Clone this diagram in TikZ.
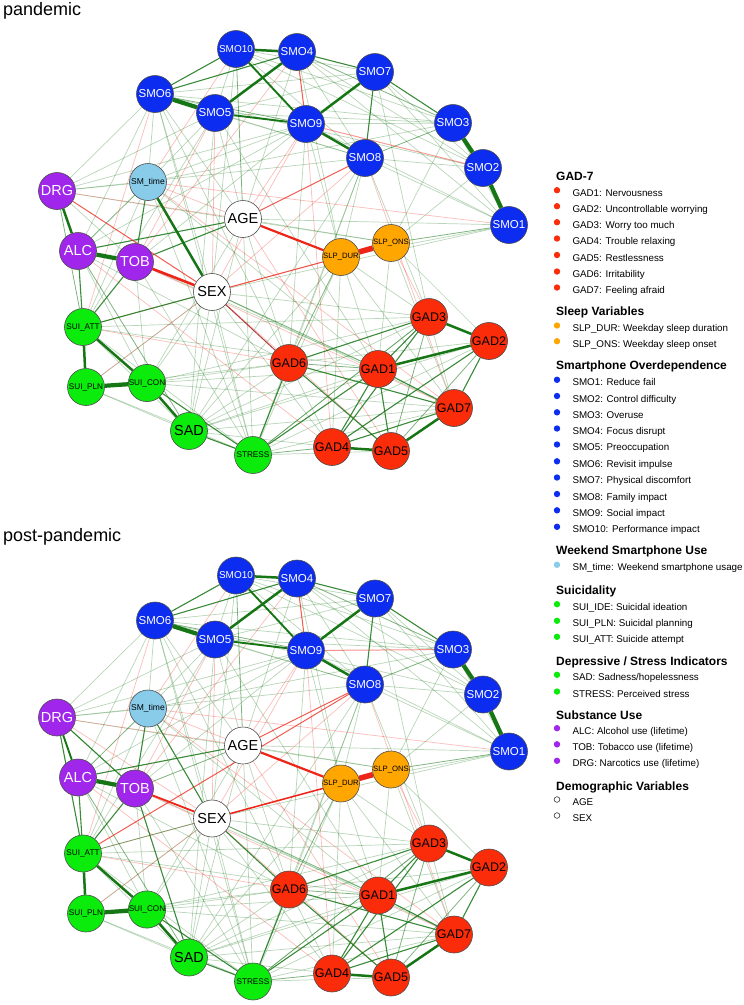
\documentclass[tikz,border=0pt]{standalone}
\usepackage{fontspec}
\setmainfont{Liberation Sans}
\usetikzlibrary{backgrounds}

\definecolor{smoblue}{RGB}{12,44,240}
\definecolor{gadred}{RGB}{250,44,10}
\definecolor{suigreen}{RGB}{12,236,12}
\definecolor{subpurple}{RGB}{160,38,236}
\definecolor{slporange}{RGB}{255,166,0}
\definecolor{smtblue}{RGB}{136,204,234}
\definecolor{posgreen}{RGB}{22,118,22}
\definecolor{negred}{RGB}{238,36,24}

\begin{document}
\begin{tikzpicture}[x=1pt, y=-1pt,
    vtx/.style={circle, draw=black!70, line width=0.6pt, minimum size=37pt, inner sep=0pt},
    smo/.style={vtx, fill=smoblue, text=white, font=\fontsize{11.5}{12}\selectfont},
    gad/.style={vtx, fill=gadred, font=\fontsize{12.5}{13}\selectfont},
    sui/.style={vtx, fill=suigreen, font=\fontsize{8.2}{9}\selectfont},
    dep/.style={vtx, fill=suigreen, font=\fontsize{14.5}{15}\selectfont},
    sub/.style={vtx, fill=subpurple, text=white, font=\fontsize{14.5}{15}\selectfont},
    slp/.style={vtx, fill=slporange, font=\fontsize{7.7}{8}\selectfont},
    smt/.style={vtx, fill=smtblue, font=\fontsize{8.5}{9}\selectfont},
    demo/.style={vtx, fill=white, font=\fontsize{14.5}{15}\selectfont},
    posfaint/.style={draw=posgreen, line width=0.7pt, opacity=0.3},
    poslight/.style={draw=posgreen, line width=0.8pt, opacity=0.55},
    posmid/.style={draw=posgreen, line width=1.1pt, opacity=0.85},
    posfirm/.style={draw=posgreen, line width=1.9pt},
    posstrong/.style={draw=posgreen, line width=2.5pt},
    posheavy/.style={draw=posgreen, line width=4.2pt},
    negfaint/.style={draw=negred, line width=0.7pt, opacity=0.3},
    neglight/.style={draw=negred, line width=1pt, opacity=0.75},
    negmid/.style={draw=negred, line width=2.2pt},
    negheavy/.style={draw=negred, line width=5.5pt},
    title/.style={anchor=base west, inner sep=0pt, font=\fontsize{18}{20}\selectfont},
    lghead/.style={anchor=west, inner sep=0pt, text height=8.6pt, text depth=0pt, font=\bfseries\fontsize{12}{13}\selectfont},
    lgitem/.style={anchor=west, inner sep=0pt, text height=7pt, text depth=0pt, font=\fontsize{9.8}{11}\selectfont},
    lgdot/.style={circle, inner sep=0pt, minimum size=6.4pt}
]
\useasboundingbox (0,0) rectangle (744,1005);

\node[title] (tpan) at (3,15.5) {pandemic};
\node[title] (tpost) at (3,541) {post-pandemic};

% both networks share one layout
\foreach \p/\dy in {pan/0, post/526.5} {
  \begin{scope}[shift={(0,\dy)}]
    \node[smo] (\p-SMO1) at (509,225) {SMO1};
    \node[smo] (\p-SMO2) at (483,168) {SMO2};
    \node[smo] (\p-SMO3) at (453,123) {SMO3};
    \node[smo] (\p-SMO4) at (297,52) {SMO4};
    \node[smo] (\p-SMO5) at (215,113) {SMO5};
    \node[smo] (\p-SMO6) at (155,94) {SMO6};
    \node[smo] (\p-SMO7) at (375,72) {SMO7};
    \node[smo] (\p-SMO8) at (365,158) {SMO8};
    \node[smo] (\p-SMO9) at (306,124) {SMO9};
    \node[smo, font=\fontsize{10}{11}\selectfont] (\p-SMO10) at (236,49) {SMO10};
    \node[sub] (\p-DRG) at (57,191) {DRG};
    \node[sub] (\p-ALC) at (78,251) {ALC};
    \node[sub] (\p-TOB) at (135,262) {TOB};
    \node[smt] (\p-SMT) at (148,182) {SM\_time};
    \node[demo] (\p-AGE) at (243,219) {AGE};
    \node[demo] (\p-SEX) at (212,292) {SEX};
    \node[slp] (\p-DUR) at (341,257) {SLP\_DUR};
    \node[slp] (\p-ONS) at (391,243) {SLP\_ONS};
    \node[sui] (\p-ATT) at (83,327) {SUI\_ATT};
    \node[sui] (\p-PLN) at (86,387) {SUI\_PLN};
    \node[sui] (\p-CON) at (147,383) {SUI\_CON};
    \node[dep] (\p-SAD) at (189,431) {SAD};
    \node[sui] (\p-STR) at (253,455) {STRESS};
    \node[gad] (\p-GAD1) at (378,369) {GAD1};
    \node[gad] (\p-GAD2) at (489,341) {GAD2};
    \node[gad] (\p-GAD3) at (429,317) {GAD3};
    \node[gad] (\p-GAD4) at (332,447) {GAD4};
    \node[gad] (\p-GAD5) at (391,451) {GAD5};
    \node[gad] (\p-GAD6) at (289,363) {GAD6};
    \node[gad] (\p-GAD7) at (454,408) {GAD7};
  \end{scope}
}

% edges behind the nodes
\begin{scope}[on background layer]
\foreach \p in {pan,post} {
  \foreach \a/\b in {SMO6/SMO7, SMO6/SMO8, SMO6/SMO3, SMO6/AGE, SMO6/SEX, SMO6/GAD6, SMO6/DRG, SMO6/SMT, SMO6/STR,
      SMO10/SMO7, SMO10/SMO5, SMO10/SMO8, SMO10/SMO3, SMO10/SMO2, SMO10/SEX,
      SMO4/SMO8, SMO4/SMO2, SMO4/SMO1, SMO4/AGE, SMO4/DUR,
      SMO7/SMO2, SMO7/SMO1, SMO7/SMO5, SMO7/GAD3, SMO9/SMO1, SMO9/GAD6, SMO9/DUR, SMO9/SMT,
      SMO9/TOB, SMO9/DRG, SMO9/ALC, SMO5/AGE, SMO5/SMO3, SMO5/SMO8, SMO5/DRG, SMO5/SAD, SMO5/GAD1, SMO5/ATT,
      SMO8/SMO2, SMO8/SMO1, SMO8/GAD3, SMO8/DUR, SMO8/GAD6, SMO8/STR, SMO8/SAD,
      SMO3/SMO1, SMO3/ONS, SMO3/SMT, SMO2/SMO6, SMO2/ONS, SMO1/DUR, SMO1/AGE,
      DRG/SMT, DRG/TOB, DRG/ONS, DRG/SMO8, SMT/ATT, SMT/SMO5, SMT/GAD1, SMT/STR,
      AGE/STR, AGE/SAD, AGE/CON, AGE/ONS, AGE/GAD6,
      SEX/GAD3, SEX/GAD7, SEX/STR, SEX/SAD, SEX/PLN, SEX/CON, SEX/SMO1, SEX/GAD4,
      TOB/CON, TOB/STR, TOB/GAD1, ALC/CON, ALC/SMO6, ALC/GAD6,
      ATT/GAD1, ATT/STR, ATT/SAD, ATT/GAD3, PLN/SAD, PLN/STR, PLN/GAD6,
      CON/GAD1, CON/GAD6, CON/GAD3, CON/GAD7,
      SAD/GAD1, SAD/GAD3, SAD/GAD6, SAD/GAD4, SAD/GAD7, SAD/DUR, SAD/GAD2,
      STR/GAD3, STR/GAD7, STR/DUR, STR/GAD5, STR/GAD2,
      DUR/GAD3, DUR/GAD1, DUR/GAD4, DUR/GAD7, ONS/GAD1, ONS/GAD7, ONS/GAD2,
      GAD6/GAD2, GAD6/GAD4, GAD3/GAD7}
    \draw[posfaint] (\p-\a) -- (\p-\b);
  \foreach \a/\b in {SMO5/SEX, SMO6/ATT, SMO9/GAD4, SMO8/GAD7, SMO9/AGE, SMO10/SMT, ATT/GAD6,
      SEX/GAD5, AGE/GAD5, SMT/DUR, ONS/GAD3, SMO1/SMT, PLN/SEX, TOB/GAD7, SMO9/SEX,
      DRG/AGE, SMO5/TOB, SMO4/TOB, SMT/GAD7, ALC/GAD4, ATT/DUR, SMO8/SEX}
    \draw[negfaint] (\p-\a) -- (\p-\b);
  \foreach \a/\b in {SMO6/SMO9, SMO10/AGE, SMO4/SMO3, SMO8/SMO3, ONS/SMO1, GAD3/GAD5, GAD3/STR,
      STR/GAD4, GAD6/GAD1, SEX/GAD1, ALC/SAD, DUR/GAD6, GAD2/GAD5, SMT/ALC}
    \draw[poslight] (\p-\a) -- (\p-\b);
  \foreach \a/\b in {SMO4/SMO9, AGE/SMO8}
    \draw[neglight] (\p-\a) -- (\p-\b);
  \foreach \a/\b in {SMO10/SMO6, SMO4/SMO6, SMO4/SMO7, SMO7/SMO8, SMO7/SMO3,
      AGE/ALC, SAD/STR, GAD6/GAD3, GAD6/GAD5, GAD6/STR, GAD1/GAD4, GAD1/GAD3, GAD1/GAD5,
      GAD2/GAD7, GAD2/GAD4, GAD3/GAD4, GAD4/GAD7, GAD6/GAD7, GAD1/GAD7, TOB/ATT, SMT/TOB,
      CON/STR, STR/GAD1}
    \draw[posmid] (\p-\a) -- (\p-\b);
  \draw[negmid] (\p-AGE) -- (\p-DUR);
  \foreach \a/\b in {SMO10/SMO9, SMO5/SMO9}
    \draw[posfirm] (\p-\a) -- (\p-\b);
  \foreach \a/\b in {SMO10/SMO4, SMO4/SMO5, SMO9/SMO7, SMO9/SMO8, ATT/PLN, ATT/CON, CON/SAD,
      GAD3/GAD2, GAD1/GAD2, GAD4/GAD5, GAD5/GAD7}
    \draw[posstrong] (\p-\a) -- (\p-\b);
  \foreach \a/\b in {SMO6/SMO5, SMO3/SMO2, SMO2/SMO1, ALC/TOB, PLN/CON}
    \draw[posheavy] (\p-\a) -- (\p-\b);
  \draw[negheavy] (\p-DUR) -- (\p-ONS);
}

% pandemic only
\draw[posfaint] (pan-SMO9) -- (pan-SMO3);
\draw[poslight] (pan-DRG) -- (pan-ATT);
\draw[neglight, opacity=0.45] (pan-SMO9) -- (pan-SMO2);
\foreach \a/\b in {ALC/ATT, SEX/ATT, AGE/TOB}
  \draw[posmid] (pan-\a) -- (pan-\b);
\foreach \a/\b in {SEX/DUR, DRG/SEX}
  \draw[neglight] (pan-\a) -- (pan-\b);
\draw[neglight, draw=red!60!black] (pan-SEX) -- (pan-GAD6);
\draw[negmid, line width=2.6pt] (pan-TOB) -- (pan-SEX);
\foreach \a/\b in {SMT/SEX, DRG/ALC}
  \draw[posstrong] (pan-\a) -- (pan-\b);

% post-pandemic only
\draw[negfaint] (post-DRG) -- (post-SEX);
\foreach \a/\b in {SEX/ATT, AGE/TOB}
  \draw[poslight] (post-\a) -- (post-\b);
\draw[neglight, opacity=0.5] (post-SMO9) -- (post-SMO3);
\draw[neglight] (post-ATT) -- (post-SMO8);
\foreach \a/\b in {SMT/SEX, DRG/ATT, ALC/ATT, DRG/TOB, SEX/GAD6, TOB/SAD}
  \draw[posmid] (post-\a) -- (post-\b);
\draw[negmid, line width=1.5pt] (post-SEX) -- (post-DUR);
\draw[negmid, line width=1.8pt] (post-TOB) -- (post-SEX);
\draw[posfirm] (post-DRG) -- (post-ALC);
\end{scope}

% legend
\node[lghead] (hgad) at (556,176.5) {GAD-7};
\node[lghead] (hslp) at (556,311.3) {Sleep Variables};
\node[lghead] (hsmo) at (556,365.3) {Smartphone Overdependence};
\node[lghead] (hsmt) at (556,550) {Weekend Smartphone Use};
\node[lghead] (hsui) at (556,590) {Suicidality};
\node[lghead] (hdep) at (556,660.7) {Depressive / Stress Indicators};
\node[lghead] (hsub) at (556,715.3) {Substance Use};
\node[lghead] (hdem) at (556,786) {Demographic Variables};

\foreach \y/\c/\t [count=\i] in {
    192.7/gadred/{GAD1: Nervousness}, 208.7/gadred/{GAD2: Uncontrollable worrying},
    224.7/gadred/{GAD3: Worry too much}, 241/gadred/{GAD4: Trouble relaxing},
    257.5/gadred/{GAD5: Restlessness}, 274/gadred/{GAD6: Irritability},
    290/gadred/{GAD7: Feeling afraid},
    328/slporange/{SLP\_DUR: Weekday sleep duration}, 343.7/slporange/{SLP\_ONS: Weekday sleep onset},
    382.3/smoblue/{SMO1: Reduce fail}, 398.5/smoblue/{SMO2: Control difficulty},
    414.8/smoblue/{SMO3: Overuse}, 431/smoblue/{SMO4: Focus disrupt},
    447/smoblue/{SMO5: Preoccupation}, 463.8/smoblue/{SMO6: Revisit impulse},
    480/smoblue/{SMO7: Physical discomfort}, 496.5/smoblue/{SMO8: Family impact},
    512.8/smoblue/{SMO9: Social impact}, 529.3/smoblue/{SMO10: Performance impact},
    567.3/smtblue/{SM\_time: Weekend smartphone usage},
    606.7/suigreen/{SUI\_IDE: Suicidal ideation}, 623.3/suigreen/{SUI\_PLN: Suicidal planning},
    639.3/suigreen/{SUI\_ATT: Suicide attempt},
    677.3/suigreen/{SAD: Sadness/hopelessness}, 694/suigreen/{STRESS: Perceived stress},
    730.7/subpurple/{ALC: Alcohol use (lifetime)}, 746.8/subpurple/{TOB: Tobacco use (lifetime)},
    763.3/subpurple/{DRG: Narcotics use (lifetime)}} {
  \node[lgdot, fill=\c] (dot\i) at (557,\y-2.5) {};
  \node[lgitem] (item\i) at (572.3,\y) {\t};
}
\foreach \y/\t [count=\i] in {802/AGE, 818/SEX} {
  \node[lgdot, draw=black!80, line width=0.6pt, fill=white, minimum size=5.6pt] (demdot\i) at (557,\y-2.5) {};
  \node[lgitem] (demitem\i) at (572.3,\y) {\t};
}
\end{tikzpicture}
\end{document}
